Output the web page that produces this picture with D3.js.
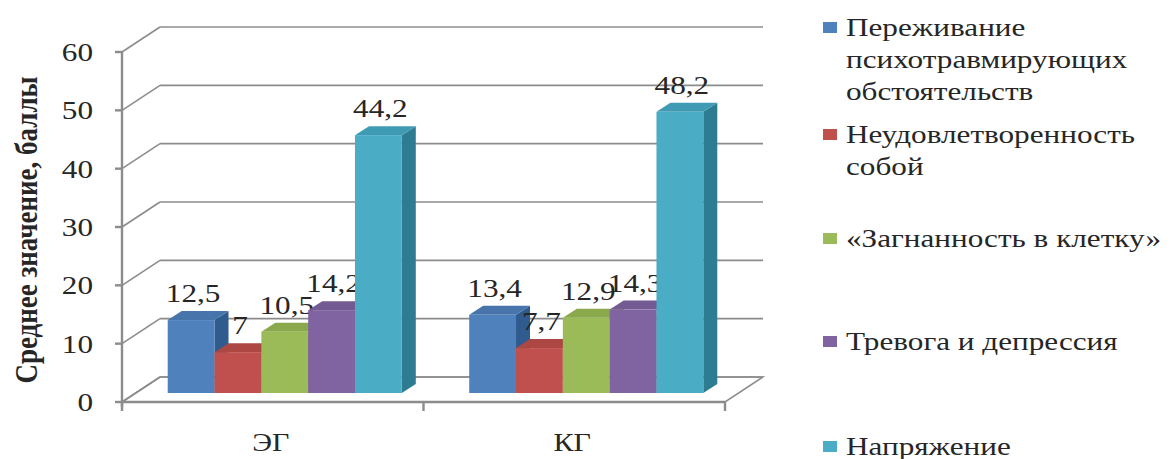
<!DOCTYPE html>
<html>
<head>
<meta charset="utf-8">
<script src="https://cdn.jsdelivr.net/npm/d3@7/dist/d3.min.js"></script>
<style>
  html, body { margin: 0; padding: 0; background: #fff; }
  svg { display: block; }
</style>
</head>
<body>
<svg id="chart" width="1173" height="459"></svg>
<script>
// Groups on the x axis
const categories = ["ЭГ", "КГ"];
// Scale names (legend order = bar order)
const seriesNames = [
  ["Переживание", "психотравмирующих", "обстоятельств"],
  ["Неудовлетворенность", "собой"],
  ["«Загнанность в клетку»"],
  ["Тревога и депрессия"],
  ["Напряжение"]
];
// Mean scores per group, one value per scale
const egValues = [12.5, 7, 10.5, 14.2, 44.2];
const kgValues = [13.4, 7.7, 12.9, 14.3, 48.2];
const yTicks = [0, 10, 20, 30, 40, 50, 60];
const yTitle = "Среднее значение, баллы";

const fills = [
  { front: "#4f81bd", top: "#4674ab", side: "#2f5b8e" },
  { front: "#c0504d", top: "#ad4744", side: "#8c3836" },
  { front: "#9bbb59", top: "#8aa94c", side: "#6f8a3c" },
  { front: "#8064a2", top: "#735a92", side: "#5a4676" },
  { front: "#4bacc6", top: "#3f9ab3", side: "#2e7c92" }
];

const svg = d3.select("#chart");
const FONT = "Liberation Serif";
const grid = "#8c8c8c";
const textColor = "#262626";
const sx = 1.2; // horizontal text stretch

const left = 122, right = 725;
const floorY = 402, topY = 52;
const wall = { dx: 38, dy: -25 };   // depth of the back wall
const plane = { dx: 12, dy: -9 };   // front plane of the columns
const depth = { dx: 14, dy: -9 };   // column depth

const y = d3.scaleLinear().domain([0, 60]).range([floorY, topY]);
const x = d3.scaleBand().domain(categories).range([left, right]);
const xs = d3.scaleBand().domain(d3.range(seriesNames.length))
  .range([0, x.bandwidth()]).paddingInner(0).paddingOuter(0.72);

const data = categories.map((c, ci) => ({
  cat: c,
  values: [egValues, kgValues][ci]
}));

const fmt = d3.formatLocale({ decimal: ",", thousands: " ", grouping: [3], currency: ["", ""] }).format("~g");

function stretchedText(g, tx, ty, str, opts) {
  return g.append("text")
    .attr("transform", `translate(${tx},${ty}) scale(${opts.sx || sx},1)`)
    .attr("text-anchor", opts.anchor || "start")
    .attr("font-family", FONT)
    .attr("font-size", opts.size || 26)
    .attr("font-weight", opts.weight || "normal")
    .attr("fill", textColor)
    .text(str);
}

// Floor
svg.append("path")
  .attr("d", `M${left},${floorY}L${right},${floorY}L${right + wall.dx},${floorY + wall.dy}L${left + wall.dx},${floorY + wall.dy}Z`)
  .attr("fill", "#fff").attr("stroke", grid).attr("stroke-width", 1.5);

// Back wall gridlines and side-wall diagonals
const gridG = svg.append("g").attr("stroke", grid).attr("stroke-width", 1.6).attr("fill", "none");
yTicks.forEach(t => {
  const yy = y(t);
  gridG.append("line")
    .attr("x1", left).attr("y1", yy)
    .attr("x2", left + wall.dx).attr("y2", yy + wall.dy);
  gridG.append("line")
    .attr("x1", left + wall.dx).attr("y1", yy + wall.dy)
    .attr("x2", right + wall.dx).attr("y2", yy + wall.dy);
});

// Y axis with ticks
const axisG = svg.append("g").attr("stroke", grid).attr("stroke-width", 2.4);
axisG.append("line").attr("x1", left).attr("y1", topY).attr("x2", left).attr("y2", floorY + 5);
yTicks.forEach(t => {
  axisG.append("line").attr("x1", left - 7).attr("y1", y(t)).attr("x2", left).attr("y2", y(t));
});
// X axis
axisG.append("line").attr("x1", left).attr("y1", floorY).attr("x2", right).attr("y2", floorY);
[left, ...categories.slice(1).map(c => x(c)), right].forEach(px => {
  axisG.append("line").attr("x1", px).attr("y1", floorY).attr("x2", px).attr("y2", floorY + 9);
});

// Tick labels
const tickG = svg.append("g");
yTicks.forEach(t => stretchedText(tickG, 93, y(t) + 9, t, { anchor: "end", size: 26 }));

// Category labels
categories.forEach(c => stretchedText(svg, x(c) + x.bandwidth() / 2 - 2, 451, c, { anchor: "middle", size: 25 }));

// Y axis title
svg.append("text")
  .attr("transform", `translate(37,230) scale(${sx},1) rotate(-90)`)
  .attr("text-anchor", "middle")
  .attr("font-family", FONT)
  .attr("font-size", 27)
  .attr("font-weight", "bold")
  .attr("fill", textColor)
  .text(yTitle);

// Columns, drawn left to right so later ones overlap earlier side faces
const barsG = svg.append("g");
data.forEach(d => {
  d.values.forEach((v, i) => {
    const x0 = x(d.cat) + plane.dx + xs(i);
    const x1 = x0 + xs.bandwidth();
    const yb = y(0) + plane.dy;
    const yt = y(v) + plane.dy;
    const f = fills[i];
    barsG.append("path")
      .attr("d", `M${x1},${yb}L${x1 + depth.dx},${yb + depth.dy}L${x1 + depth.dx},${yt + depth.dy}L${x1},${yt}Z`)
      .attr("fill", f.side);
    barsG.append("path")
      .attr("d", `M${x0},${yt}L${x1},${yt}L${x1 + depth.dx},${yt + depth.dy}L${x0 + depth.dx},${yt + depth.dy}Z`)
      .attr("fill", f.top);
    barsG.append("rect")
      .attr("x", x0).attr("y", yt)
      .attr("width", x1 - x0).attr("height", yb - yt)
      .attr("fill", f.front);
    stretchedText(barsG, (x0 + x1) / 2 + 2, yt - 18, fmt(v), { anchor: "middle", size: 26 });
  });
});

// Legend
const legendBaselines = [36, 143, 247, 350, 455];
const lineH = 32;
const legG = svg.append("g");
seriesNames.forEach((lines, i) => {
  const b = legendBaselines[i];
  legG.append("rect")
    .attr("x", 823).attr("y", b - 14)
    .attr("width", 14).attr("height", 11)
    .attr("fill", fills[i].front);
  lines.forEach((ln, k) => stretchedText(legG, 846, b + k * lineH, ln, { size: 26 }));
});
</script>
</body>
</html>
